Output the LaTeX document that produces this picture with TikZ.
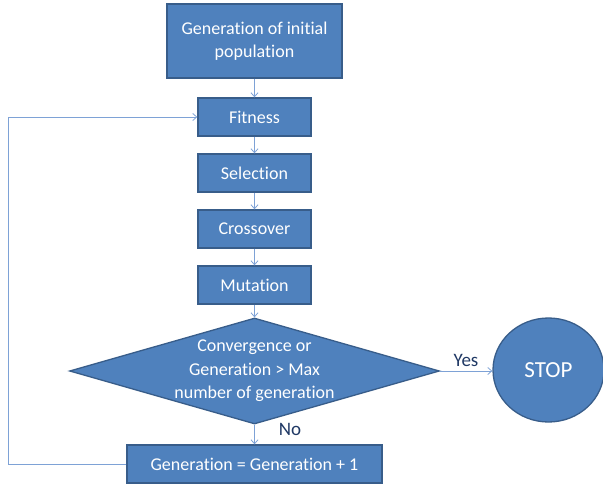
\documentclass[tikz,border=0pt]{standalone}
\usepackage{fontspec}
\setmainfont{Carlito}[Ligatures=NoCommon]
\usetikzlibrary{shapes.geometric,arrows.meta}
\definecolor{boxfill}{HTML}{4F81BD}
\definecolor{boxline}{HTML}{385D8A}
\definecolor{arrowcol}{HTML}{7EA2D6}
\definecolor{labelcol}{HTML}{1F3864}
\tikzset{
  base/.style={fill=boxfill, draw=boxline, line width=1.3pt, text=white,
    font=\fontsize{18}{23.5}\selectfont, align=center, inner sep=0pt},
  stepbox/.style={base, rectangle, minimum width=113pt, minimum height=38pt},
  decide/.style={base, diamond, shape aspect=3.5, inner sep=-20pt, minimum width=370pt, minimum height=106pt},
  finish/.style={base, ellipse, minimum width=111pt, minimum height=104pt, font=\fontsize{23}{27}\selectfont},
  conn/.style={draw=arrowcol, line width=0.8pt, -{Straight Barb[length=4pt,width=7pt]}},
  lbl/.style={text=labelcol, font=\fontsize{19}{22}\selectfont, inner sep=0pt}
}
\begin{document}
\begin{tikzpicture}[x=1pt,y=-1pt]
\useasboundingbox (0,0) rectangle (603,485);
\node[base, rectangle, minimum width=175pt, minimum height=74pt] (init) at (254.5,41) {Generation of initial\\population};
\node[stepbox] (fit) at (254.5,117) {Fitness};
\node[stepbox] (sel) at (254.5,173) {Selection};
\node[stepbox] (cross) at (254.5,229) {Crossover};
\node[stepbox] (mut) at (254.5,285) {Mutation};
\node[decide] (conv) at (254.5,371) {Convergence or\\Generation > Max\\number of generation};
\node[finish] (stop) at (548.5,370) {STOP};
\node[base, rectangle, minimum width=255pt, minimum height=38pt] (gen) at (254.5,464) {Generation = Generation + 1};
\coordinate (c1) at (8,464);
\coordinate (c2) at (8,117);
\draw[conn] (init) -- (fit);
\draw[conn] (fit) -- (sel);
\draw[conn] (sel) -- (cross);
\draw[conn] (cross) -- (mut);
\draw[conn] (mut) -- (conv);
\draw[conn] (conv.east) -- (stop.west |- conv.east);
\draw[conn] (conv) -- (gen);
\draw[conn] (gen.west) -- (c1) -- (c2) -- (fit.west);
\node[lbl] (yes) at (466,360) {Yes};
\node[lbl] (no) at (290,429) {No};
\end{tikzpicture}
\end{document}
